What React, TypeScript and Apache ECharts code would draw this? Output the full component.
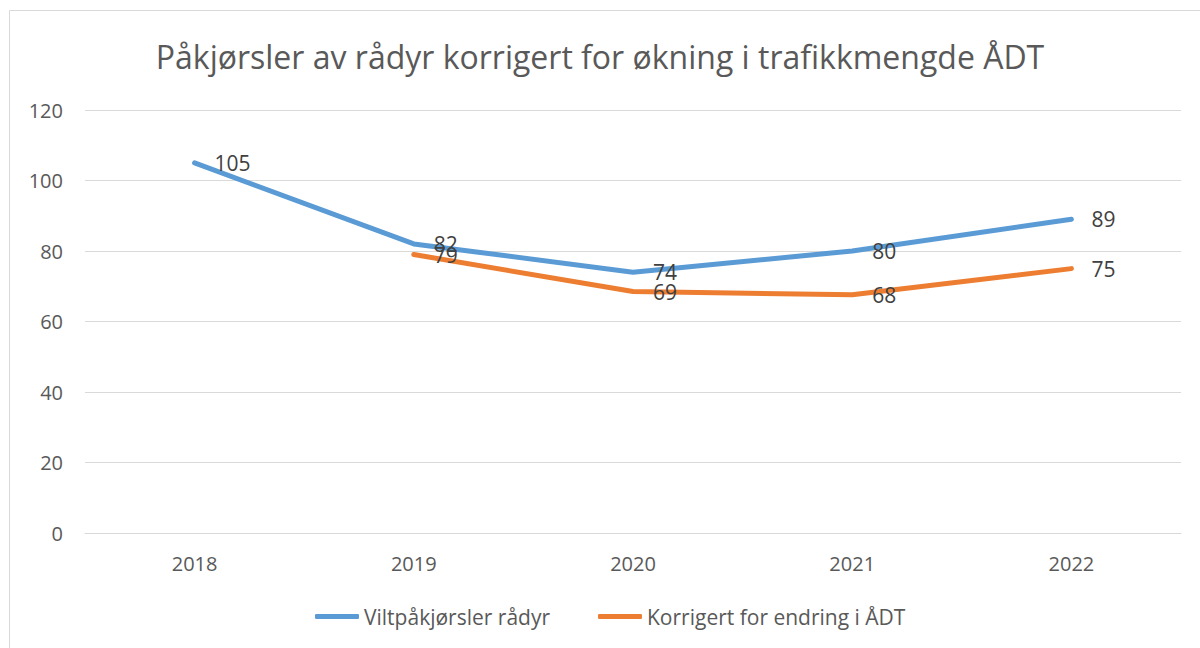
import React, { useEffect, useRef } from "react";
import * as echarts from "echarts";

const categories = ["2018", "2019", "2020", "2021", "2022"];
const viltValues: (number | null)[] = [105, 82, 74, 80, 89];
const korrValues: (number | null)[] = [null, 79, 68.5, 67.6, 75];
const yTicks = { min: 0, max: 120, interval: 20 };

const titleText = "Påkjørsler av rådyr korrigert for økning i trafikkmengde ÅDT";
const seriesNames = ["Viltpåkjørsler rådyr", "Korrigert for endring i ÅDT"];
const colors = ["#5b9bd5", "#ed7d31"];

const FONT = "'Open Sans', 'Noto Sans', sans-serif";

export default function App() {
  const ref = useRef<HTMLDivElement>(null);
  useEffect(() => {
    if (!ref.current) return;
    const chart = echarts.init(ref.current, null, { renderer: "svg" });
    const label = {
      show: true,
      position: "right" as const,
      distance: 20,
      color: "#404040",
      fontSize: 21,
      fontFamily: FONT,
      formatter: (p: any) => String(Math.round(p.value)),
    };
    const mkSeries = (i: number, data: (number | null)[]) => ({
      name: seriesNames[i],
      type: "line",
      data,
      symbol: "circle",
      symbolSize: 0.01,
      showSymbol: true,
      itemStyle: { color: colors[i] },
      lineStyle: { color: colors[i], width: 5, cap: "round", join: "round" },
      color: colors[i],
      label,
    });
    chart.setOption({
      animation: false,
      backgroundColor: "#ffffff",
      title: {
        text: titleText,
        left: "center",
        top: 35,
        textStyle: { color: "#595959", fontSize: 32, fontWeight: "normal", fontFamily: FONT },
      },
      graphic: [
        {
          type: "rect",
          shape: { x: 9.5, y: 10.5, width: 1200, height: 650 },
          style: { fill: "none", stroke: "#d9d9d9", lineWidth: 1 },
          silent: true,
        },
      ],
      legend: {
        bottom: 16,
        left: 310,
        itemWidth: 44,
        itemHeight: 5,
        itemGap: 48,
        icon: "roundRect",
        textStyle: { color: "#595959", fontSize: 21, fontFamily: FONT },
        data: seriesNames.map((n, i) => ({ name: n, itemStyle: { color: colors[i], opacity: 1 } })),
      },
      grid: { left: 85, right: 19, top: 110, bottom: 115 },
      xAxis: {
        type: "category",
        data: categories,
        boundaryGap: true,
        axisLine: { show: true, lineStyle: { color: "#d9d9d9" } },
        axisTick: { show: false },
        axisLabel: { color: "#595959", fontSize: 20, fontFamily: FONT, margin: 20 },
      },
      yAxis: {
        type: "value",
        min: yTicks.min,
        max: yTicks.max,
        interval: yTicks.interval,
        axisLine: { show: false },
        axisTick: { show: false },
        splitLine: { lineStyle: { color: "#d9d9d9", width: 1 } },
        axisLabel: { color: "#595959", fontSize: 20, fontFamily: FONT, margin: 22 },
      },
      series: [mkSeries(0, viltValues), mkSeries(1, korrValues)],
    });
    return () => chart.dispose();
  }, []);
  return (
    <div
      ref={ref}
      style={{ position: "fixed", left: 0, top: 0, width: 1200, height: 648 }}
    />
  );
}
